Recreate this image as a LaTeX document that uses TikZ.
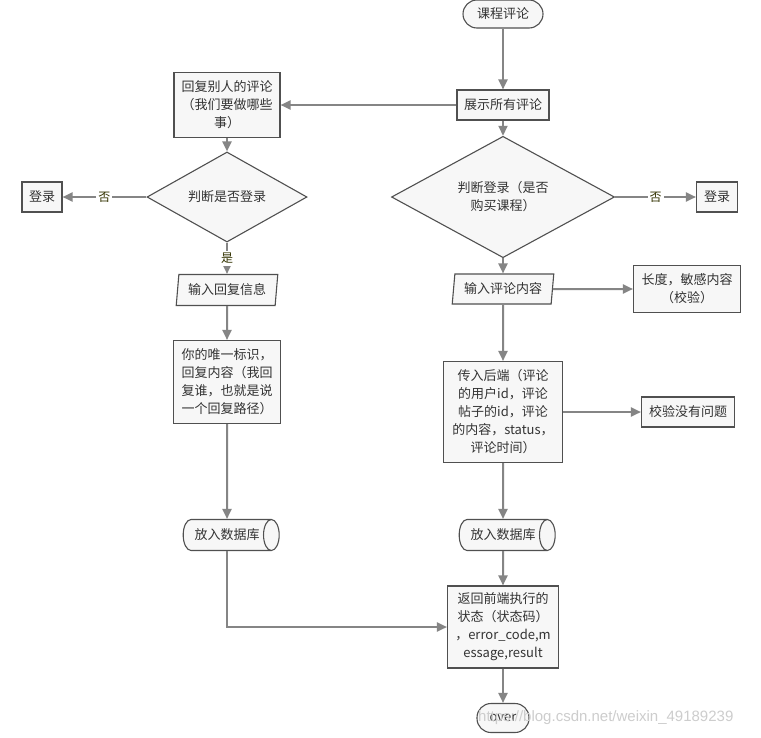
\documentclass[tikz,border=0pt]{standalone}
\usepackage{fontspec}
\setmainfont{Noto Sans CJK SC}
\newfontfamily\wmfont{Liberation Sans}
\usetikzlibrary{shapes.geometric,arrows.meta}
\definecolor{linegray}{HTML}{858585}
\definecolor{boxfill}{HTML}{F7F7F7}
\definecolor{boxline}{HTML}{505050}
\definecolor{txt}{HTML}{333333}
\definecolor{labtxt}{HTML}{333300}
\definecolor{wmgray}{HTML}{CDCDCD}
\tikzset{
  base/.style={draw=boxline, line width=1.1pt, fill=boxfill, text=txt,
    font=\fontsize{13}{18}\selectfont, inner sep=0pt, align=center},
  term/.style={base, rounded corners=14pt},
  dec/.style={base, diamond},
  io/.style={base, trapezium, trapezium left angle=80, trapezium right angle=100,
    trapezium stretches=true},
  db/.style={base, cylinder, shape aspect=1.3, cylinder uses custom fill,
    cylinder body fill=boxfill, cylinder end fill=boxfill},
  conn/.style={draw=linegray, line width=2pt, -{Triangle[length=10pt,width=9pt]}},
  lab/.style={fill=white, text=labtxt, font=\fontsize{12}{14}\selectfont, inner sep=2pt}
}
\begin{document}
\begin{tikzpicture}[x=1pt,y=-1pt]
\fill[white] (0,0) rectangle (761,737);
\useasboundingbox (0,0) rectangle (761,737);

\node[term, minimum width=80pt, minimum height=28pt] (start) at (503,14) {课程评论};
\node[base, minimum width=92pt, minimum height=30pt] (show) at (503,105) {展示所有评论};
\node[base, minimum width=106pt, minimum height=65pt] (reply) at (227,105) {回复别人的评论\\（我们要做哪些\\事）};
\node[dec, minimum width=223pt, minimum height=81pt] (d2) at (503,197) {判断登录（是否\\购买课程）};
\node[base, minimum width=41pt, minimum height=30pt] (login2) at (717,197) {登录};
\node[dec, minimum width=160pt, minimum height=59pt] (d1) at (227,197) {判断是否登录};
\node[base, minimum width=40pt, minimum height=30pt] (login1) at (42,197) {登录};
\node[io, minimum width=102pt, minimum height=31pt] (in1) at (227,290) {输入回复信息};
\node[io, minimum width=102pt, minimum height=30pt] (in2) at (503,289) {输入评论内容};
\node[base, minimum width=107pt, minimum height=47pt] (len) at (687,289) {长度，敏感内容\\（校验）};
\node[base, minimum width=107pt, minimum height=83pt] (id) at (227,382) {你的唯一标识，\\回复内容（我回\\复谁，也就是说\\一个回复路径）};
\node[base, minimum width=119pt, minimum height=101pt] (back) at (503,412) {传入后端（评论\\的用户id，评论\\帖子的id，评论\\的内容，status，\\评论时间）};
\node[base, minimum width=93pt, minimum height=30pt] (ok) at (688,412) {校验没有问题};
\node[db, minimum height=96pt, minimum width=31pt] (db1) at (227,535) {放入数据库};
\node[db, minimum height=96pt, minimum width=31pt] (db2) at (503,535) {放入数据库};
\node[base, minimum width=111pt, minimum height=82pt] (ret) at (503,627) {返回前端执行的\\状态（状态码）\\，error\_code,m\\essage,result};
\node[term, minimum width=52pt, minimum height=29pt] (over) at (503,718) {over};

\draw[conn] (start) -- (show);
\draw[conn] (show) -- (reply);
\draw[conn] (show) -- (d2);
\draw[conn] (d2) -- node[lab]{否} (login2);
\draw[conn] (d2) -- (in2);
\draw[conn] (in2) -- (len);
\draw[conn] (in2) -- (back);
\draw[conn] (back) -- (ok);
\draw[conn] (back) -- (db2);
\draw[conn] (db2) -- (ret);
\draw[conn] (ret) -- (over);
\draw[conn] (reply) -- (d1);
\draw[conn] (d1) -- node[lab]{否} (login1);
\draw[conn] (d1) -- node[lab]{是} (in1);
\draw[conn] (in1) -- (id);
\draw[conn] (id) -- (db1);
\draw[conn] (db1) |- (ret);

\node[text=wmgray, font=\wmfont\fontsize{15}{15}\selectfont, anchor=west, inner sep=0pt] (wm) at (478,718) {https://blog.csdn.net/weixin\_49189239};
\end{tikzpicture}
\end{document}
